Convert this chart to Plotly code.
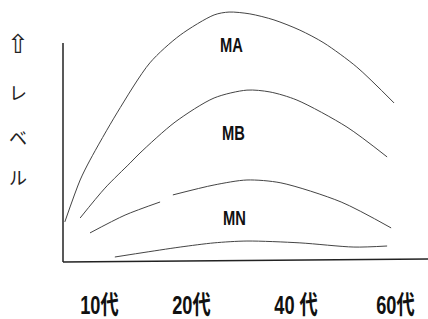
import plotly.graph_objects as go

# Schematic data (abstract units: x 0-100, y 0-100)
ma_x = [0.5, 4.7, 7.4, 14.8, 23.8, 32.1, 41.4, 45.5, 51.2, 57.8, 64.9, 71.5, 80.5, 90.7]
ma_y = [15.3, 31.3, 38.9, 56.9, 76.0, 86.6, 94.3, 95.4, 94.7, 92.4, 88.5, 83.6, 74.4, 60.7]

mb_x = [4.7, 11.5, 18.4, 21.1, 30.7, 41.4, 50.4, 56.7, 64.1, 77.8, 88.8]
mb_y = [16.8, 28.2, 37.8, 41.6, 53.4, 62.6, 65.6, 64.9, 61.8, 51.5, 40.1]

c3_x = [7.4, 17.0, 26.6, None, 30.1, 41.4, 50.4, 59.7, 76.2, 89.9]
c3_y = [11.1, 17.9, 22.9, None, 25.6, 29.4, 31.3, 30.2, 22.9, 13.0]

mn_x = [14.2, 21.1, 32.1, 41.4, 50.4, 64.9, 79.7, 88.8]
mn_y = [1.9, 3.4, 5.7, 7.3, 8.0, 7.3, 5.7, 6.1]

tick_pos = [10.1, 35.3, 63.8, 91.0]
tick_labels = ["10代", "20代", "40 代", "60代"]
tick_label_y = -16.4

curve_labels = ["MA", "MB", "MN"]
curve_label_x = [46.3, 46.8, 47.1]
curve_label_y = [83.2, 49.6, 16.8]

y_title = ["⇧", "レ", "ベ", "ル"]
y_title_fonts = ["DejaVu Sans", "Noto Sans CJK JP", "Noto Sans CJK JP", "Noto Sans CJK JP"]
y_title_sizes = [26, 18, 18, 18]
y_title_x = -12.3
y_title_y = [83.2, 64.9, 47.7, 32.4]

line_color = "#444444"
narrow = "Liberation Sans Narrow, Arial Narrow, Liberation Sans, Noto Sans CJK JP"

fig = go.Figure()
for xs, ys in [(ma_x, ma_y), (mb_x, mb_y), (c3_x, c3_y), (mn_x, mn_y)]:
    fig.add_trace(go.Scatter(x=xs, y=ys, mode="lines",
                             line=dict(color=line_color, width=1.0, shape="spline", smoothing=0.8),
                             connectgaps=False, hoverinfo="skip", showlegend=False))

# axes lines
fig.add_shape(type="line", x0=0, y0=83.6, x1=0, y1=0, xref="x", yref="y", line=dict(color="#222", width=1.5))
fig.add_shape(type="line", x0=0, y0=0, x1=100, y1=1.1, xref="x", yref="y", line=dict(color="#222", width=1.5))

for t, x in zip(tick_labels, tick_pos):
    fig.add_annotation(x=x, y=tick_label_y, xref="x", yref="y", text="<b>" + t + "</b>", showarrow=False,
                       font=dict(family=narrow, size=26, color="#111"))

for t, x, y in zip(curve_labels, curve_label_x, curve_label_y):
    fig.add_annotation(x=x, y=y, xref="x", yref="y", text="<b>" + t + "</b>", showarrow=False,
                       font=dict(family=narrow, size=21, color="#111"))

for t, f, s, y in zip(y_title, y_title_fonts, y_title_sizes, y_title_y):
    fig.add_annotation(x=y_title_x, y=y, xref="x", yref="y", text=t, showarrow=False,
                       font=dict(family=f, size=s, color="#222"))

# plot area covers the whole figure; axes ranges chosen so the schematic's
# origin sits where the reference draws it
fig.update_layout(
    width=428, height=319,
    margin=dict(l=0, r=0, t=0, b=0),
    paper_bgcolor="white", plot_bgcolor="white",
    xaxis=dict(range=[-17.26, 100], visible=False, fixedrange=True),
    yaxis=dict(range=[-21.76, 100], visible=False, fixedrange=True),
)

post = """
document.body.style.margin = '0';
function squeeze(){
  document.querySelectorAll('g.annotation text').forEach(function(t){
    var s = t.textContent;
    if (/代|^M[ABN]$/.test(s)) {
      t.style.transformBox = 'fill-box';
      t.style.transformOrigin = 'center';
      t.style.transform = 'scaleX(0.7)';
    }
  });
}
squeeze();
var gd = document.getElementsByClassName('plotly-graph-div')[0];
if (gd && gd.on) { gd.on('plotly_afterplot', squeeze); }
setTimeout(squeeze, 50);
"""
fig.write_html("out.html", post_script=post, config={"displayModeBar": False})
